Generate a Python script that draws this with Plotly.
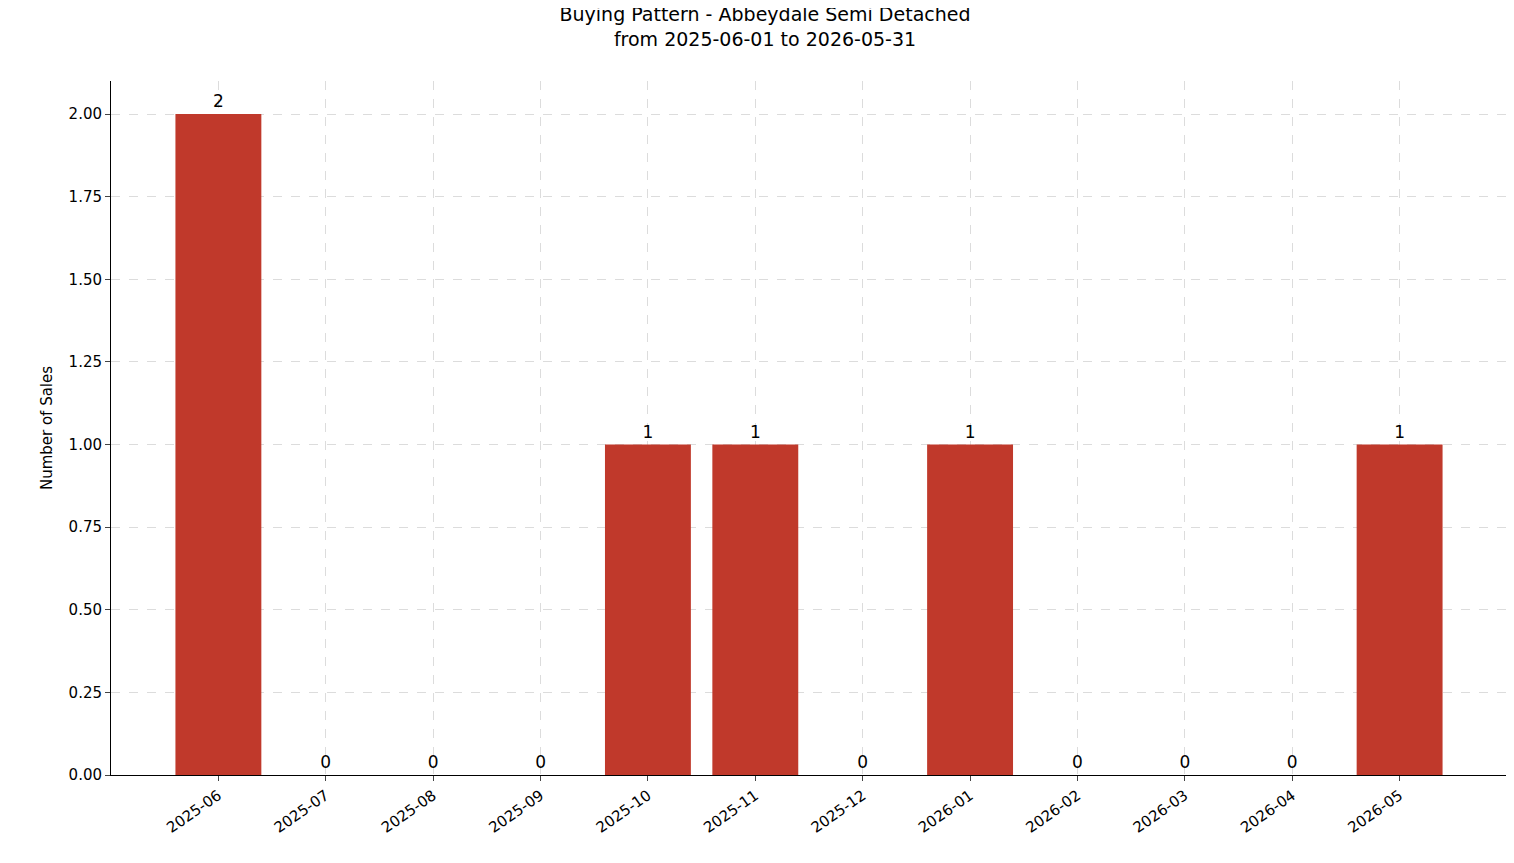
import plotly.graph_objects as go

months = ["2025-06", "2025-07", "2025-08", "2025-09", "2025-10", "2025-11",
          "2025-12", "2026-01", "2026-02", "2026-03", "2026-04", "2026-05"]
sales = [2, 0, 0, 0, 1, 1, 0, 1, 0, 0, 0, 1]
y_ticks = [0, 0.25, 0.5, 0.75, 1.0, 1.25, 1.5, 1.75, 2.0]

x = list(range(len(months)))

fig = go.Figure(go.Bar(
    x=x, y=sales, width=0.8, marker_color="#c0392b", marker_line_width=0,
    text=[str(v) for v in sales], textposition="outside",
    textfont=dict(size=17, color="black"), cliponaxis=False,
))

fig.update_layout(
    width=1514, height=863,
    margin=dict(l=103, r=15, t=73, b=96, autoexpand=False),
    plot_bgcolor="white", paper_bgcolor="white",
    font=dict(family="DejaVu Sans", size=15, color="black"),
    title=dict(text="Buying Pattern - Abbeydale Semi Detached<br>from 2025-06-01 to 2026-05-31",
               x=0.5, xanchor="center", yref="container", y=0.985, yanchor="top",
               font=dict(size=19)),
    showlegend=False,
)
fig.update_xaxes(
    tickvals=x, ticktext=months, tickangle=-35, range=[-1, 12], automargin=False,
    tickfont=dict(size=15),
    showline=True, linecolor="black", ticks="outside", ticklen=5,
    showgrid=True, gridcolor="#dcdcdc", griddash="dash", zeroline=False,
)
fig.update_yaxes(
    title_text="Number of Sales", title_font=dict(size=15), title_standoff=12,
    range=[0, 2.1], automargin=False, tickfont=dict(size=15),
    tickvals=y_ticks, ticktext=[f"{v:.2f}" for v in y_ticks],
    showline=True, linecolor="black", ticks="outside", ticklen=5,
    showgrid=True, gridcolor="#dcdcdc", griddash="dash", zeroline=False,
)

fig.write_html("out.html")
